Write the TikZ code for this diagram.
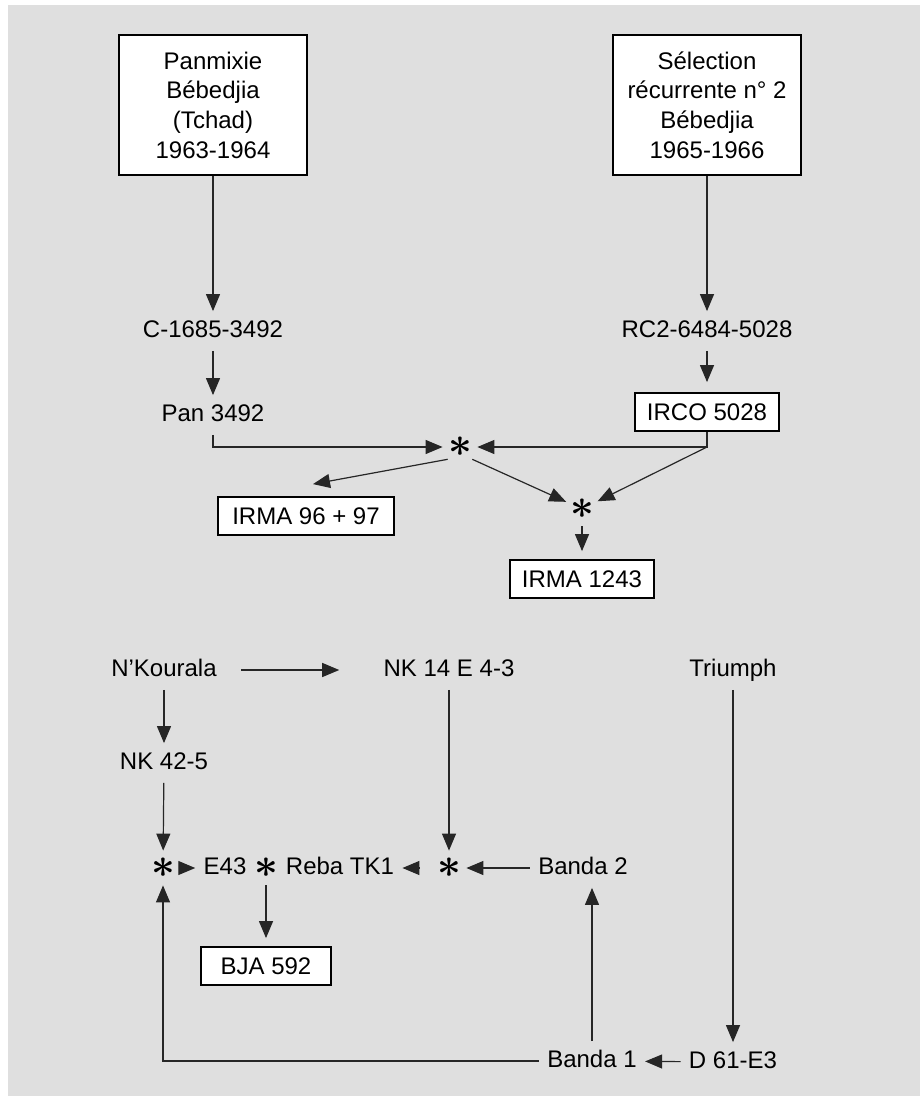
\documentclass[tikz,border=0pt]{standalone}
\usepackage{fontspec}
\setmainfont{Liberation Sans}
\usepackage{tikz}
\usetikzlibrary{arrows.meta,positioning}

\begin{document}
\begin{tikzpicture}[
  x=0.5pt, y=0.5pt,
  on grid,
  font=\fontsize{12}{14.85}\selectfont,
  bigbox/.style={draw,fill=white,line width=0.9pt,align=center,minimum width=94pt,minimum height=70pt},
  box/.style={draw,fill=white,line width=0.9pt,inner xsep=6pt,minimum height=19pt},
  lbl/.style={inner sep=4pt,text height=9pt,text depth=2.5pt},
  cross/.style={circle,inner sep=0pt,minimum size=17pt,font=\huge\boldmath},
  arrow/.style={-{Triangle[length=8.5pt,width=7pt]},line width=0.6pt,draw=black!85}
]
\useasboundingbox (0,0) rectangle (920,-1096);
\fill[gray!25] (8,-5) rectangle (920,-1096);

\node[bigbox] (pan) at (213,-105) {Panmixie\\Bébedjia\\(Tchad)\\1963-1964};
\node[bigbox] (sel) at (707,-105) {Sélection\\récurrente n°~2\\Bébedjia\\1965-1966};
\node[lbl, below=113pt of pan] (c1685) {C-1685-3492};
\node[lbl, below=42pt of c1685] (pan3492) {Pan 3492};
\node[lbl, below=113pt of sel] (rc2) {RC2-6484-5028};
\node[box, below=40.5pt of rc2] (irco) {IRCO 5028};
\node[cross] (x1) at (460,-447) {$\ast$};
\node[cross] (x2) at (582,-509) {$\ast$};
\node[box, inner xsep=7pt] (irma96) at (306,-516) {IRMA 96 + 97};
\node[box, below=35pt of x2] (irma1243) {IRMA 1243};

\draw[arrow] (pan) -- (c1685);
\draw[arrow] (c1685) -- (pan3492);
\draw[arrow] (sel) -- (rc2);
\draw[arrow, shorten >=5pt] (rc2) -- (irco);
\draw[arrow] (pan3492.south) |- (x1);
\draw[arrow] (irco.south) |- (x1);
\draw[arrow] (irco.south |- x1) -- (x2);
\draw[arrow] (x1.south west) -- ([shift={(3.5pt,6pt)}]irma96.north);
\draw[arrow] (x1.south east) -- (x2);
\draw[arrow, shorten >=4pt] (x2) -- (irma1243);

\node[lbl] (nkour) at (164,-670) {N'Kourala};
\node[lbl, right=142.5pt of nkour] (nk14) {NK 14 E 4-3};
\node[lbl, right=142pt of nk14] (triumph) {Triumph};
\node[lbl, below=46.5pt of nkour] (nk42) {NK 42-5};
\node[cross] (s1) at (163,-868) {$\ast$};
\node[lbl] (e43) at (225,-868) {E43};
\node[cross] (s2) at (266,-868) {$\ast$};
\node[lbl] (reba) at (340,-868) {Reba TK1};
\node[cross, below=99pt of nk14] (s3) {$\ast$};
\node[lbl] (banda2) at (583,-868) {Banda 2};
\node[box, minimum width=65pt, below=49pt of s2] (bja) {BJA 592};
\node[lbl] (banda1) at (592,-1061) {Banda 1};
\node[lbl, below=196pt of triumph] (d61) {D 61-E3};

\draw[arrow, shorten <=8pt, shorten >=18pt] (nkour) -- (nk14);
\draw[arrow] (nkour) -- (nk42);
\draw[arrow] (nk42) -- (s1);
\draw[arrow] (nk14) -- (s3);
\draw[arrow] (triumph) -- (d61);
\draw[arrow] (s1) -- (e43);
\draw[arrow, shorten <=6pt] (s3) -- (reba);
\draw[arrow] (banda2) -- (s3);
\draw[arrow, shorten >=4pt] (s2) -- (bja);
\draw[arrow] (d61) -- (banda1);
\draw[arrow] (banda1.north) -- (banda1.north |- banda2.south);
\draw[arrow] (banda1.west) -| (s1);
\end{tikzpicture}
\end{document}
